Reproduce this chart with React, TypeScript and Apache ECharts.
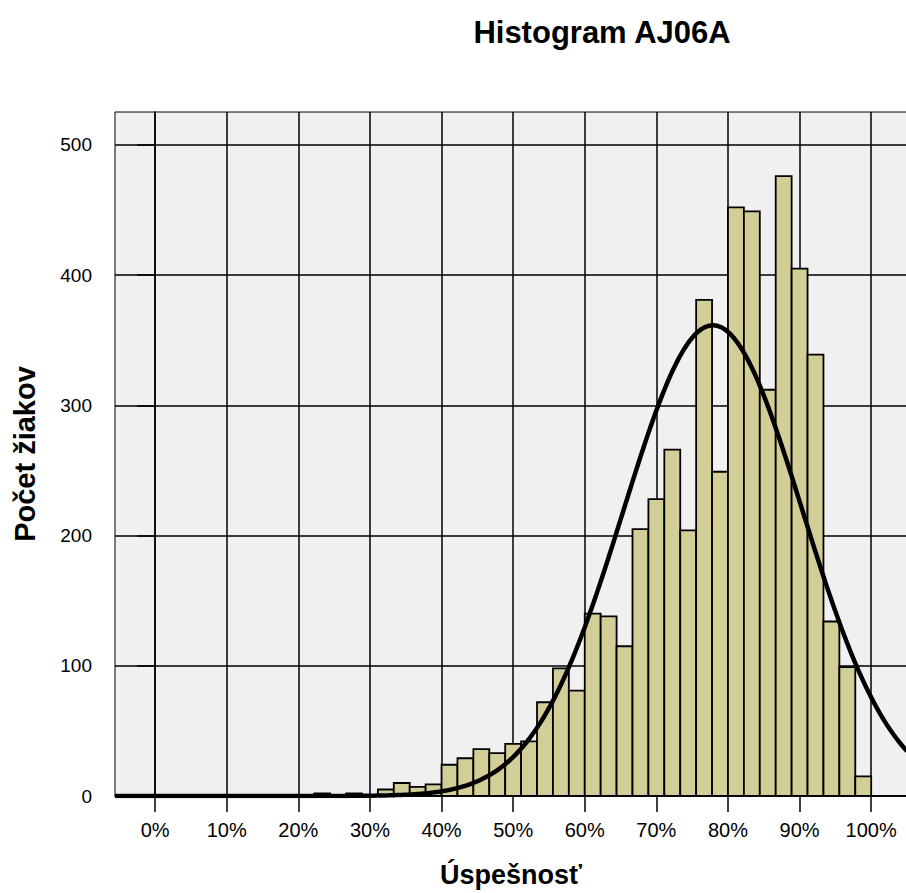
import React, { useEffect, useRef } from "react";
import * as echarts from "echarts";

// Histogram bins: each bin spans one item of a 45-item test (100/45 %)
const BIN_COUNT = 45;
const COUNTS = [
  0, 0, 0, 0, 0, 0, 0, 0, 0, 0,
  2, 0, 2, 0, 5, 10, 7, 9, 24, 29,
  36, 33, 40, 42, 72, 98, 81, 140, 138, 115,
  205, 228, 266, 204, 381, 249, 452, 449, 312, 476,
  405, 339, 134, 99, 15,
];
const X_TICKS = [0, 10, 20, 30, 40, 50, 60, 70, 80, 90, 100];
const Y_TICKS = [0, 100, 200, 300, 400, 500];
// fitted normal curve parameters
const MEAN = 77.9;
const SD = 12.5;

const TITLE = "Histogram AJ06A";
const X_NAME = "Úspešnosť";
const Y_NAME = "Počet žiakov";

const X_MIN = -5.6;
const X_MAX = 105.0;
const Y_MAX = 525.3;

const FONT = "'Liberation Sans', Arial, sans-serif";

export default function App() {
  const ref = useRef<HTMLDivElement>(null);
  useEffect(() => {
    if (!ref.current) return;
    const chart = echarts.init(ref.current, null, { renderer: "svg" });
    const W = 100 / BIN_COUNT;
    const N = COUNTS.reduce((a, b) => a + b, 0);
    const peak = (N * W) / (SD * Math.sqrt(2 * Math.PI));
    const curve: number[][] = [];
    for (let x = X_MIN; x <= X_MAX + 0.001; x += 0.2) {
      curve.push([x, peak * Math.exp(-((x - MEAN) ** 2) / (2 * SD * SD))]);
    }
    const bars = COUNTS.map((c, k) => [k * W, (k + 1) * W, c]).filter((d) => d[2] > 0);

    chart.setOption({
      animation: false,
      backgroundColor: "#ffffff",
      textStyle: { fontFamily: FONT },
      graphic: [
        {
          type: "text",
          x: 602,
          y: 32,
          style: {
            text: TITLE,
            fontFamily: FONT,
            fontSize: 31,
            fontWeight: "bold",
            fill: "#000",
            align: "center",
            verticalAlign: "middle",
          },
        },
      ],
      grid: {
        left: 115,
        top: 112,
        right: -1,
        bottom: 97,
        outerBoundsMode: "none",
        containLabel: false,
        show: true,
        backgroundColor: "#f0f0f0",
        borderColor: "#000",
        borderWidth: 1,
      },
      xAxis: {
        type: "value",
        min: X_MIN,
        max: X_MAX,
        name: X_NAME,
        nameLocation: "middle",
        nameGap: 65,
        nameTextStyle: { fontFamily: FONT, fontSize: 27, fontWeight: "bold", color: "#000" },
        axisLine: { show: true, onZero: false, lineStyle: { color: "#000", width: 1.5 } },
        axisTick: { show: true, length: 16, customValues: X_TICKS, lineStyle: { color: "#000", width: 1.5 } },
        axisLabel: {
          customValues: X_TICKS,
          formatter: (v: number) => `${v}%`,
          margin: 24,
          fontFamily: FONT,
          fontSize: 20,
          color: "#000",
        },
        splitLine: { show: true, lineStyle: { color: "#000", width: 1.5 } },
      },
      yAxis: {
        type: "value",
        min: 0,
        max: Y_MAX,
        name: Y_NAME,
        nameLocation: "middle",
        nameGap: 76,
        nameTextStyle: { fontFamily: FONT, fontSize: 29, fontWeight: "bold", color: "#000" },
        axisLine: { show: true, lineStyle: { color: "#000", width: 1.5 } },
        axisTick: { show: true, length: 18, customValues: Y_TICKS, lineStyle: { color: "#000", width: 1.5 } },
        axisLabel: { customValues: Y_TICKS, margin: 23, fontFamily: FONT, fontSize: 19, color: "#000" },
        splitLine: { show: true, lineStyle: { color: "#000", width: 1.5 } },
      },
      series: [
        {
          type: "custom",
          data: bars,
          encode: { x: [0, 1], y: 2 },
          clip: true,
          renderItem: (params: any, api: any) => {
            const p0 = api.coord([api.value(0), api.value(2)]);
            const p1 = api.coord([api.value(1), 0]);
            return {
              type: "rect",
              shape: { x: p0[0], y: p0[1], width: p1[0] - p0[0], height: p1[1] - p0[1] },
              style: { fill: "#d3ce97", stroke: "#000", lineWidth: 1.8 },
            };
          },
          z: 3,
        },
        {
          type: "line",
          data: curve,
          showSymbol: false,
          symbol: "none",
          clip: true,
          lineStyle: { color: "#000", width: 4.5 },
          z: 5,
          silent: true,
        },
      ],
    });
    return () => chart.dispose();
  }, []);
  return (
    <div
      ref={ref}
      style={{ position: "fixed", left: 0, top: 0, width: 906, height: 893 }}
    />
  );
}
